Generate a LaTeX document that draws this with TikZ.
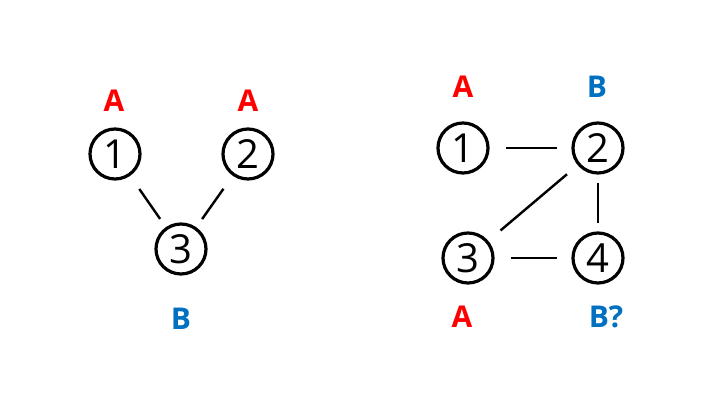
\documentclass[tikz,border=0pt]{standalone}
\usepackage{fontspec}
\setmainfont{Open Sans}
\usepackage{tikz}
\usetikzlibrary{positioning}
\usepackage{xcolor}
\definecolor{labred}{HTML}{FF0000}
\definecolor{labblue}{HTML}{0070C0}

\tikzset{
  vert/.style={circle, draw, line width=1.6pt, minimum size=25pt, inner sep=0pt,
    font=\fontsize{20}{20}\selectfont},
  edge/.style={line width=1.2pt, shorten <=6pt, shorten >=6pt},
  colA/.style={text=labred, font=\fontsize{15}{15}\selectfont\bfseries},
  colB/.style={text=labblue, font=\fontsize{15}{15}\selectfont\bfseries}
}

\begin{document}
\begin{tikzpicture}[x=0.5pt, y=-0.5pt]
        \useasboundingbox (0,0) rectangle (720,405);

        % Left graph
        \node[vert] (l1) at (115,154) {1};
        \node[vert] (l2) at (248,154) {2};
        \node[vert] (l3) at (181,249) {3};

        \node[colA] (la1) at (114,101) {A};
        \node[colA] (la2) at (248,101) {A};
        \node[colB] (lb3) at (181,319) {B};

        \draw[edge, shorten <=8pt, shorten >=5pt] (l1) -- (l3);
        \draw[edge, shorten <=8pt, shorten >=5pt] (l2) -- (l3);

        % Right graph
        \node[vert] (r1) at (463,148) {1};
        \node[vert] (r2) at (598,148) {2};
        \node[vert] (r3) at (468,258) {3};
        \node[vert] (r4) at (598,258) {4};

        \node[colA] (ra1) at (463,87) {A};
        \node[colB] (rb2) at (597,87) {B};
        \node[colA] (ra3) at (462,317) {A};
        \node[colB] (rb4) at (606,317) {B?};

        \draw[edge, shorten <=8pt, shorten >=7pt] (r1) -- (r2);
        \draw[edge, shorten <=7pt, shorten >=8pt] (r2) -- (r3);
        \draw[edge, shorten <=4pt, shorten >=4pt] (r2) -- (r4);
        \draw[edge, shorten <=8pt, shorten >=7pt] (r3) -- (r4);
    \end{tikzpicture}
\end{document}
